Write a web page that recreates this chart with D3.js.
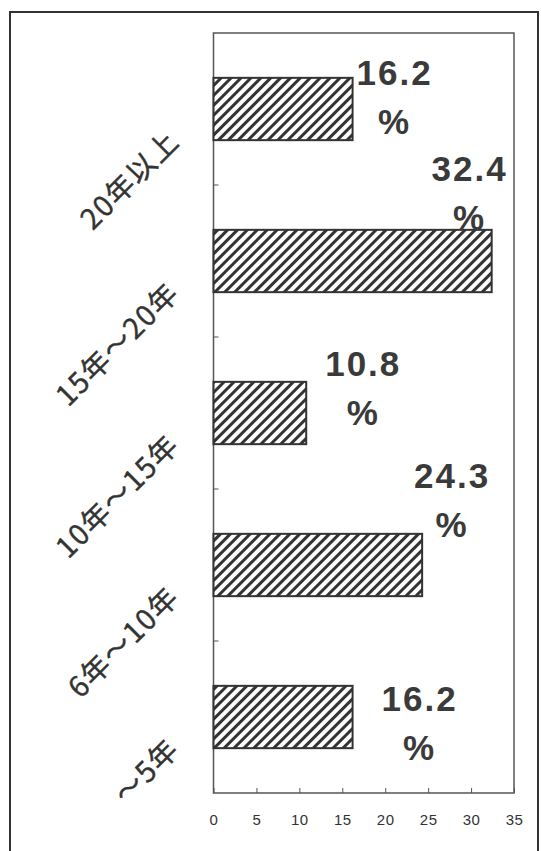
<!DOCTYPE html>
<html>
<head>
<meta charset="utf-8">
<script src="https://cdn.jsdelivr.net/npm/d3@7"></script>
<style>
  html, body { margin: 0; padding: 0; background: #fff; }
  svg { display: block; }
</style>
</head>
<body>
<svg id="chart" width="541" height="851"></svg>
<script>
// Years of experience groups, top to bottom
const categories = ["20年以上", "15年～20年", "10年～15年", "6年～10年", "～5年"];
// Share of respondents (%)
const values = [16.2, 32.4, 10.8, 24.3, 16.2];
// Horizontal axis ticks
const xTicks = [0, 5, 10, 15, 20, 25, 30, 35];
// Where each value label sits, relative to the bar end and band centre
const labelOffsets = [
  { dx: 42, dy: -24 },
  { dx: -22, dy: -80 },
  { dx: 57, dy: -37 },
  { dx: 30, dy: -77 },
  { dx: 67, dy: -6 }
];

const ink = "#333";
const svg = d3.select("#chart");

const plot = { left: 213.5, right: 514, top: 33, bottom: 793 };

const x = d3.scaleLinear().domain([0, 35]).range([plot.left, plot.right]);
const y = d3.scaleBand()
  .domain(categories)
  .range([plot.top, plot.bottom])
  .paddingInner(0.59)
  .paddingOuter(0.295);

// Hatched fill
const defs = svg.append("defs");
const pat = defs.append("pattern")
  .attr("id", "hatch")
  .attr("patternUnits", "userSpaceOnUse")
  .attr("width", 7)
  .attr("height", 7)
  .attr("patternTransform", "rotate(45)");
pat.append("rect").attr("width", 7).attr("height", 7).attr("fill", "#fff");
pat.append("line")
  .attr("x1", 1.5).attr("y1", 0).attr("x2", 1.5).attr("y2", 7)
  .attr("stroke", ink).attr("stroke-width", 3);

// Outer frame
svg.append("rect")
  .attr("x", 10).attr("y", 12)
  .attr("width", 528).attr("height", 860)
  .attr("fill", "none").attr("stroke", ink).attr("stroke-width", 2);

// Plot frame
svg.append("rect")
  .attr("x", plot.left).attr("y", plot.top)
  .attr("width", plot.right - plot.left).attr("height", plot.bottom - plot.top)
  .attr("fill", "none").attr("stroke", "#555").attr("stroke-width", 1.5);

// Bars
svg.append("g").selectAll("rect")
  .data(values)
  .join("rect")
  .attr("x", x(0))
  .attr("y", (d, i) => y(categories[i]))
  .attr("width", d => x(d) - x(0))
  .attr("height", y.bandwidth())
  .attr("fill", "url(#hatch)")
  .attr("stroke", ink)
  .attr("stroke-width", 2);

// Left axis ticks between bands (pointing inward)
const step = y.step();
const gap = step - y.bandwidth();
svg.append("g").selectAll("line")
  .data(categories.slice(0, -1))
  .join("line")
  .attr("x1", plot.left).attr("x2", plot.left + 5)
  .attr("y1", c => y(c) + y.bandwidth() + gap / 2)
  .attr("y2", c => y(c) + y.bandwidth() + gap / 2)
  .attr("stroke", "#555").attr("stroke-width", 1);

// Bottom axis
const xAxis = d3.axisBottom(x)
  .tickValues(xTicks)
  .tickFormat(d3.format("d"))
  .tickSizeInner(-5)
  .tickSizeOuter(0)
  .tickPadding(21);
const gx = svg.append("g")
  .attr("transform", `translate(0,${plot.bottom})`)
  .call(xAxis);
gx.select(".domain").remove();
gx.selectAll(".tick line").attr("stroke", "#555");
gx.selectAll(".tick text")
  .attr("fill", ink)
  .style("font-family", "'Liberation Sans', Arial, sans-serif")
  .style("font-size", "15px")
  .style("letter-spacing", "0.5px");

// Category labels, rotated
svg.append("g").selectAll("text")
  .data(categories)
  .join("text")
  .attr("transform", c => `translate(181,${y(c) + y.bandwidth() / 2 + 34}) rotate(-45)`)
  .attr("text-anchor", "end")
  .attr("fill", ink)
  .attr("stroke", ink)
  .attr("stroke-width", 0.4)
  .style("font-family", "'Noto Sans CJK JP', sans-serif")
  .style("font-size", "28.5px")
  .style("letter-spacing", "1.5px")
  .text(c => c);

// Value labels: number on one line, percent sign below
const vl = svg.append("g").selectAll("text")
  .data(values)
  .join("text")
  .attr("text-anchor", "middle")
  .attr("fill", "#3a3a3a")
  .style("font-family", "'Liberation Sans', Arial, sans-serif")
  .style("font-weight", "bold")
  .style("font-size", "35px")
  .style("letter-spacing", "2px")
  .attr("transform", (d, i) =>
    `translate(${x(d) + labelOffsets[i].dx},${y(categories[i]) + y.bandwidth() / 2 + labelOffsets[i].dy})`);
vl.append("tspan").attr("x", 0).attr("y", 0).text(d => d.toFixed(1));
vl.append("tspan").attr("x", 0).attr("y", 49).text("%");
</script>
</body>
</html>
